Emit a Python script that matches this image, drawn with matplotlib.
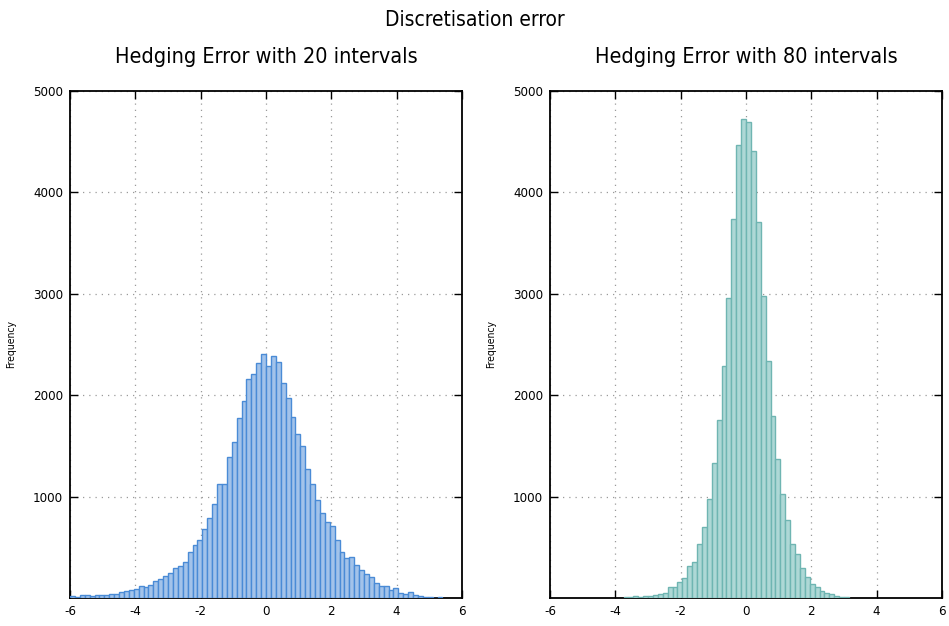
import numpy as np
import matplotlib
matplotlib.use("Agg")
import matplotlib.pyplot as plt

# ---- data ----
bin_width = 0.15
left_start = -6.0
left_counts = [23, 8, 25, 25, 20, 33, 33, 33, 43, 43, 56, 66, 75, 85, 121, 108, 128, 167,
               190, 213, 242, 295, 315, 357, 449, 524, 570, 685, 787,
               924, 1124, 1124, 1386, 1534, 1773, 1943, 2163, 2212, 2320, 2402, 2287,
               2383, 2330, 2120, 1973, 1783, 1619, 1500, 1271, 1121, 964, 842, 748, 706,
               573, 452, 390, 400, 324, 275, 232, 206, 147, 118, 116, 75, 98, 53, 42, 55,
               31, 21, 12, 12, 3, 12]
right_start = -3.75
right_counts = [8, 10, 20, 10, 16, 16, 26, 36, 46, 108, 108, 157, 200, 314, 357, 537, 704,
                976, 1333, 1753, 2290, 2960, 3736, 4464, 4720, 4690, 4408, 3713, 2979,
                2340, 1795, 1368, 1022, 765, 534, 432, 295, 209, 137, 108, 69, 52, 39, 20,
                10, 10]

suptitle = "Discretisation error"
titles = ["Hedging Error with 20 intervals", "Hedging Error with 80 intervals"]
xticks = [-6, -4, -2, 0, 2, 4, 6]
yticks = [1000, 2000, 3000, 4000, 5000]
ylabel = "Frequency"

face_colors = ["#a3c3ea", "#aed8d6"]
edge_colors = ["#4a8bd6", "#6fb5b2"]

FONT = dict(family="DejaVu Sans", stretch="condensed")

W, H = 949, 626
fig = plt.figure(figsize=(W / 100, H / 100), dpi=100)

ax_lefts = [70, 550]
ax_w, ax_top, ax_bot = 392, 91, 598

datasets = [(left_start, left_counts), (right_start, right_counts)]
for k, (start, counts) in enumerate(datasets):
    ax = fig.add_axes([ax_lefts[k] / W, (H - ax_bot) / H, ax_w / W, (ax_bot - ax_top) / H])
    edges = start + bin_width * np.arange(len(counts))
    ax.bar(edges, counts, width=bin_width, align="edge",
           facecolor=face_colors[k], edgecolor=edge_colors[k], linewidth=1.0, zorder=3)
    ax.set_xlim(-6, 6)
    ax.set_ylim(0, 5000)
    ax.set_xticks(xticks)
    ax.set_yticks(yticks)
    ax.set_xticklabels([str(t) for t in xticks], fontsize=9.5, **FONT)
    ax.set_yticklabels([str(t) for t in yticks], fontsize=9.5, **FONT)
    ax.tick_params(direction="in", top=True, right=True, length=6, width=1.0, pad=5)
    for s in ax.spines.values():
        s.set_linewidth(1.3)
    ax.grid(True, color="#9a9a9a", linestyle=(0, (1, 4)), linewidth=0.9, zorder=0)
    ax.set_axisbelow(True)
    ax.set_ylabel(ylabel, fontsize=7.5, labelpad=12, **FONT)
    cx = (ax_lefts[k] + ax_w / 2) / W
    fig.text(cx, 1 - 57 / H, titles[k], ha="center", va="center", fontsize=15.5, **FONT)

fig.text(0.5, 1 - 20 / H, suptitle, ha="center", va="center", fontsize=15, **FONT)

fig.savefig("out.png", dpi=100)
